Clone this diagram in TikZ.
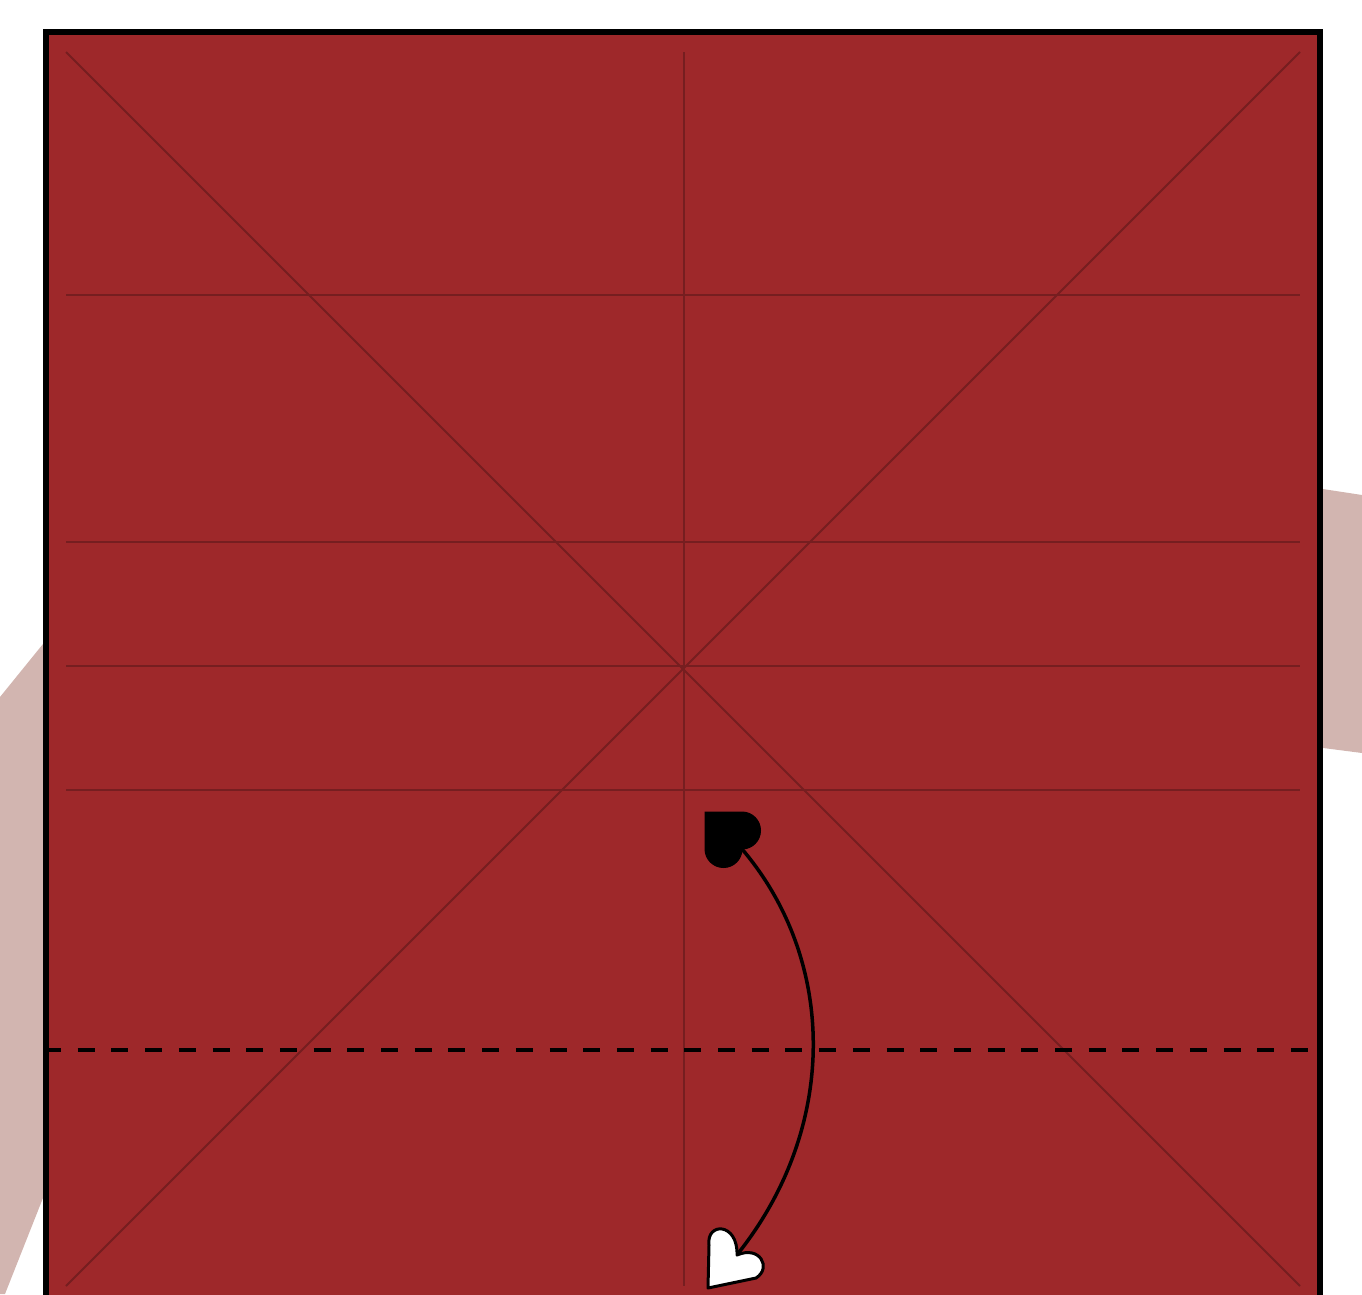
\documentclass[tikz,border=0pt]{standalone}
\begin{document}
\begin{tikzpicture}[x=1pt,y=-1pt,
  paper/.style={fill=paperred},
  crease/.style={draw=creasecol,line width=2pt},
  shadow/.style={fill=shadowcol},
  foldline/.style={draw=black,line width=4pt,dash pattern=on 17pt off 16.7pt,dash phase=5pt},
  arrowline/.style={draw=black,line width=3.5pt},
  heartshape/.pic={
    \path[pic actions] (0,0) -- (37,0) arc[start angle=-90,end angle=90,radius=18.5]
      arc[start angle=0,end angle=180,radius=18.5] -- cycle;
  }]
\definecolor{paperred}{RGB}{158,40,42}
\definecolor{creasecol}{RGB}{118,30,32}
\definecolor{shadowcol}{RGB}{210,181,176}
\useasboundingbox (0,0) rectangle (1362,1294);
\clip (0,0) rectangle (1362,1294);
% background shapes
\path[shadow] (0,697) -- (60,623) -- (60,1155) -- (5,1294) -- (0,1294) -- cycle;
\path[shadow] (1300,485.5) -- (1362,495) -- (1362,753) -- (1300,745) -- cycle;
% paper
\node[draw=black,line width=6pt,paper,minimum width=1274pt,minimum height=1274pt,inner sep=0pt,outer sep=0pt,anchor=north west] (sq) at (46,31.5) {};
% creases
\coordinate (tl) at (66,52);
\coordinate (tr) at (1300,52);
\coordinate (bl) at (66,1286);
\coordinate (br) at (1300,1286);
\coordinate (tm) at (684,52);
\coordinate (bm) at (684,1286);
\draw[crease] (tl) -- (br);
\draw[crease] (tr) -- (bl);
\draw[crease] (tm) -- (bm);
\foreach \yy in {295,542,666,790}{
  \draw[crease] (66,\yy) -- (1300,\yy);
}
% fold line
\coordinate (fl) at (49,1050);
\coordinate (fr) at (1320,1050);
\draw[foldline] (fl) -- (fr);
% arrow
\coordinate (topnotch) at (742,849);
\coordinate (botnotch) at (736,1256);
\draw[arrowline] (botnotch) .. controls (838,1130) and (838,962) .. (topnotch);
\pic[fill=black,draw=black,line width=1pt] at (705,812) {heartshape};
\path[fill=white,draw=black,line width=3pt,line join=round]
  (708,1288) -- (709,1245) .. controls (706,1222) and (738,1222) .. (737,1255)
  .. controls (760,1245) and (772,1268) .. (756,1278) -- cycle;
\end{tikzpicture}
\end{document}
